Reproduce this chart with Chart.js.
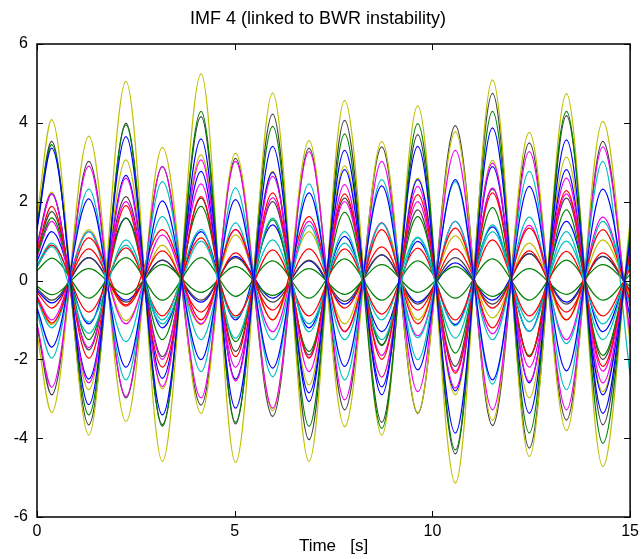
<!DOCTYPE html>
<html>
<head>
<meta charset="utf-8">
<title>IMF 4</title>
<script src="https://cdn.jsdelivr.net/npm/chart.js@4.4.1/dist/chart.umd.min.js"></script>
<style>
  html, body { margin: 0; padding: 0; background: #fff; }
  canvas { display: block; }
</style>
</head>
<body>
<canvas id="chart" width="644" height="559"></canvas>
<script>
const TIMES = [0, 0.37, 1.31, 2.25, 3.17, 4.15, 5.02, 5.96, 6.88, 7.78, 8.72, 9.63, 10.58, 11.52, 12.45, 13.39, 14.31, 15];

// Grupo em fase (pico positivo em 0.37 s).
const Y1 = [1.6, 4.08, -3.92, 5.05, -4.59, 5.24, -4.62, 4.76, -4.59, 4.57, -3.92, 4.43, -5.14, 5.09, -4.47, 4.74, -4.72, 1.5];
const K1 = [1.4, 3.53, -3.66, 3.99, -3.66, 4.16, -3.64, 4.22, -4.04, 4.06, -3.6, 3.7, -4.4, 4.75, -4.25, 4.18, -3.66, 1.1];
const G1 = [1.35, 3.45, -3.41, 3.95, -3.7, 4.29, -3.6, 3.91, -3.7, 3.72, -3.75, 3.98, -4.3, 4.29, -3.87, 4.29, -4.13, 1.25];
const B1 = [1.3, 3.36, -3.15, 3.65, -3.41, 3.59, -3.24, 3.4, -3.07, 3.3, -2.9, 3.4, -3.87, 3.87, -3.37, 3.57, -3.37, 1.0];
const Y3 = [0.9, 2.24, -2.77, 3.06, -2.75, 3.19, -2.52, 2.77, -2.65, 2.91, -2.45, 2.6, -2.9, 3.05, -2.98, 3.13, -2.82, 0.85];
const B3 = [0.9, 2.2, -2.5, 2.67, -2.48, 2.77, -2.5, 2.74, -2.85, 2.81, -2.7, 2.56, -2.8, 2.89, -2.6, 2.81, -2.9, 0.9];
const M3 = [0.85, 2.2, -2.6, 2.6, -2.69, 3.06, -2.55, 2.64, -2.31, 2.43, -2.45, 2.39, -2.73, 2.98, -2.56, 2.6, -2.6, 0.8];
const M4 = [0.6, 1.5, -1.7, 2.0, -2.0, 2.45, -2.2, 2.1, -1.95, 2.0, -1.9, 2.0, -2.3, 2.35, -2.2, 2.2, -2.3, 0.7];
const R3 = [0.75, 1.88, -1.97, 1.9, -2.2, 2.13, -1.93, 2.22, -1.97, 2.2, -2.0, 2.18, -2.35, 2.22, -1.93, 2.28, -2.18, 0.65];
const K3 = [0.7, 1.75, -1.76, 2.13, -1.93, 2.09, -1.8, 2.0, -1.89, 2.09, -1.63, 1.79, -2.18, 2.32, -1.93, 2.09, -2.0, 0.6];
const G3 = [0.65, 1.59, -1.5, 1.58, -1.5, 1.88, -1.55, 1.54, -1.8, 1.73, -1.65, 1.62, -1.84, 1.85, -1.9, 1.79, -1.9, 0.55];
const C3 = [0.35, 0.86, -1.34, 1.03, -1.0, 1.3, -1.46, 1.58, -1.3, 1.24, -1.5, 1.08, -1.46, 1.41, -1.29, 1.24, -1.5, 0.45];
const B4 = [0.5, 1.24, -1.1, 1.58, -1.2, 1.24, -1.0, 1.41, -1.2, 1.12, -1.3, 0.99, -1.12, 1.36, -1.29, 1.5, -1.3, 0.4];
const R4 = [0.35, 0.9, -0.8, 0.83, -0.9, 1.08, -0.9, 0.78, -0.9, 0.8, -0.85, 0.82, -1.0, 1.03, -0.9, 0.74, -0.9, 0.3];
const C4 = [0.4, 0.95, -1.05, 0.9, -1.1, 1.0, -0.95, 1.03, -1.1, 0.95, -1.0, 1.1, -1.15, 1.24, -1.05, 1.0, -1.1, 0.35];
const G4 = [0.25, 0.57, -0.45, 0.58, -0.5, 0.58, -0.4, 0.5, -0.45, 0.55, -0.5, 0.5, -0.45, 0.55, -0.5, 0.52, -0.5, 0.15];

// Grupo em oposição de fase (instabilidade regional).
const Y2 = [-1.35, -3.35, 3.66, -3.58, 3.38, -3.37, 3.23, -3.3, 3.55, -3.71, 3.53, -3.35, 3.78, -3.55, 3.76, -3.81, 4.04, -1.6];
const K2 = [-1.15, -2.9, 3.02, -2.98, 2.89, -3.16, 3.1, -3.45, 3.36, -3.28, 3.39, -3.37, 3.93, -3.68, 3.49, -3.54, 3.53, -1.4];
const M2 = [-1.1, -2.71, 2.9, -2.94, 2.89, -2.98, 3.02, -3.24, 3.27, -3.03, 3.02, -2.82, 3.3, -3.28, 3.27, -3.28, 3.39, -1.35];
const C2 = [-0.8, -1.97, 2.32, -2.52, 2.51, -2.31, 2.35, -2.44, 2.45, -2.52, 2.56, -2.01, 2.51, -2.63, 2.77, -2.77, 3.02, -2.4];
const B2 = [-0.7, -1.69, 2.07, -2.2, 2.02, -2.01, 2.05, -2.22, 2.22, -2.18, 2.4, -2.27, 2.56, -2.52, 2.39, -2.29, 2.32, -0.95];
const C5 = [-0.5, -1.2, 1.24, -1.55, 1.62, -1.5, 1.46, -1.5, 1.4, -1.5, 1.45, -1.45, 1.5, -1.5, 1.61, -1.6, 1.5, -0.6];
const M5 = [-0.4, -1.0, 1.24, -1.1, 1.16, -1.1, 1.3, -1.3, 1.5, -1.3, 1.46, -1.4, 1.5, -1.35, 1.4, -1.5, 1.61, -0.65];
const R5 = [-0.45, -1.08, 1.08, -0.62, 1.29, -1.0, 1.29, -1.0, 1.62, -1.29, 1.29, -1.1, 1.33, -1.2, 1.33, -1.0, 1.29, -0.5];
const Y6 = [-0.45, -1.12, 1.29, -1.02, 0.9, -1.12, 1.16, -1.0, 1.24, -1.1, 1.46, -1.0, 1.13, -0.95, 0.95, -1.0, 1.03, -0.4];
const K6 = [-0.2, -0.5, 0.58, -0.55, 0.52, -0.5, 0.58, -0.55, 0.52, -0.53, 0.65, -0.6, 0.58, -0.6, 0.68, -0.6, 0.61, -0.25];
const B6 = [-0.25, -0.57, 0.58, -0.5, 0.52, -0.55, 0.61, -0.45, 0.5, -0.6, 0.65, -0.55, 0.45, -0.5, 0.68, -0.55, 0.61, -0.25];
const G5 = [-0.15, -0.36, 0.3, -0.35, 0.4, -0.3, 0.35, -0.38, 0.3, -0.35, 0.4, -0.3, 0.35, -0.4, 0.3, -0.35, 0.4, -0.15];
const R6 = [-0.3, -0.7, 0.8, -0.65, 0.75, -0.8, 0.7, -0.75, 0.8, -0.7, 0.85, -0.75, 0.8, -0.7, 0.75, -0.8, 0.7, -0.3];

const X_TICKS = [0, 5, 10, 15];
const Y_TICKS = [-6, -4, -2, 0, 2, 4, 6];

// Cores no estilo do ColorOrder antigo do MATLAB.
const BLUE = "#0000ff", GREEN = "#008000", RED = "#ff0000", CYAN = "#00bfbf",
      MAGENTA = "#f000f0", YELLOW = "#bfbf00", DARK = "#404040";

const SERIES = [
  [B1, BLUE], [G1, GREEN], [R3, RED], [C3, CYAN], [M3, MAGENTA], [Y1, YELLOW], [K1, DARK],
  [B2, BLUE], [G3, GREEN], [R4, RED], [C2, CYAN], [M2, MAGENTA], [Y2, YELLOW], [K2, DARK],
  [B3, BLUE], [G4, GREEN], [R5, RED], [C4, CYAN], [M4, MAGENTA], [Y3, YELLOW], [K3, DARK],
  [B4, BLUE], [G5, GREEN], [R6, RED], [C5, CYAN], [M5, MAGENTA], [Y6, YELLOW], [K6, DARK],
  [B6, BLUE],
];

const FONT = "'Liberation Sans', Arial, Helvetica, sans-serif";

// Moldura completa com marcas de escala para dentro, como no gráfico original.
const frameTicks = {
  id: "frameTicks",
  afterDatasetsDraw(chart) {
    const { ctx, chartArea: a, scales: { x, y } } = chart;
    const len = 6;
    ctx.save();
    ctx.strokeStyle = "#000";
    ctx.lineWidth = 1.5;
    ctx.strokeRect(a.left, a.top, a.right - a.left, a.bottom - a.top);
    ctx.lineWidth = 1;
    ctx.beginPath();
    X_TICKS.forEach((v) => {
      const px = Math.round(x.getPixelForValue(v)) + 0.5;
      ctx.moveTo(px, a.bottom); ctx.lineTo(px, a.bottom - len);
      ctx.moveTo(px, a.top); ctx.lineTo(px, a.top + len);
    });
    Y_TICKS.forEach((v) => {
      const py = Math.round(y.getPixelForValue(v)) + 0.5;
      ctx.moveTo(a.left, py); ctx.lineTo(a.left + len, py);
      ctx.moveTo(a.right, py); ctx.lineTo(a.right - len, py);
    });
    ctx.stroke();
    ctx.restore();
  },
};

const datasets = SERIES.map(([vals, color], i) => ({
  label: "s" + i,
  data: TIMES.map((t, k) => ({ x: t, y: vals[k] })),
  borderColor: color,
  backgroundColor: color,
  borderWidth: 1.25,
  pointRadius: 0,
  cubicInterpolationMode: "monotone",
}));

new Chart(document.getElementById("chart"), {
  type: "line",
  data: { datasets },
  plugins: [frameTicks],
  options: {
    responsive: false,
    animation: false,
    events: [],
    layout: { padding: { left: 0, right: 8, top: 0, bottom: 0 } },
    plugins: {
      legend: { display: false },
      tooltip: { enabled: false },
      title: {
        display: true,
        text: "IMF 4 (linked to BWR instability)",
        color: "#000",
        font: { family: FONT, size: 18, weight: "normal" },
        padding: { top: 8, bottom: 14.4 },
      },
    },
    scales: {
      x: {
        type: "linear",
        min: 0,
        max: 15,
        afterBuildTicks: (s) => { s.ticks = X_TICKS.map((v) => ({ value: v })); },
        afterFit: (s) => { s.height = 42; },
        ticks: { color: "#000", font: { family: FONT, size: 16 }, padding: 5, maxRotation: 0 },
        grid: { display: false, drawTicks: false },
        border: { display: false },
        title: {
          display: true,
          text: "Time   [s]",
          color: "#000",
          font: { family: FONT, size: 17 },
          padding: { top: 0, bottom: 2 },
        },
      },
      y: {
        type: "linear",
        min: -6,
        max: 6,
        afterBuildTicks: (s) => { s.ticks = Y_TICKS.map((v) => ({ value: v })); },
        afterFit: (s) => { s.width = 37; },
        ticks: { color: "#000", font: { family: FONT, size: 16 }, padding: 9 },
        grid: { display: false, drawTicks: false },
        border: { display: false },
      },
    },
  },
});
</script>
</body>
</html>
